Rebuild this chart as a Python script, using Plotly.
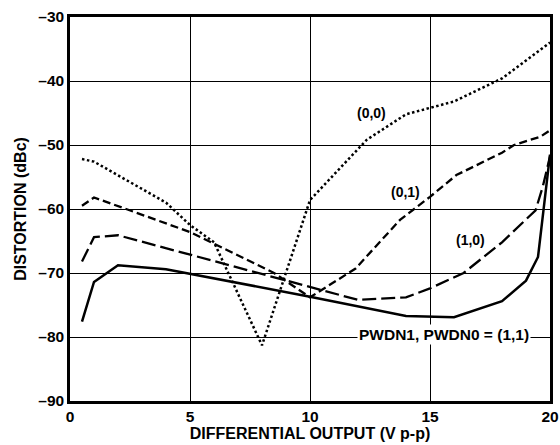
import plotly.graph_objects as go

# (1,1) solid
x11 = [0.5, 1, 2, 4, 10, 14, 16, 18, 19, 19.5, 20]
y11 = [-77.6, -71.4, -68.8, -69.4, -73.7, -76.7, -76.9, -74.4, -71.2, -67.5, -51.5]
# (1,0) long dash
x10 = [0.5, 1, 2, 10, 12, 14, 15, 16.4, 18, 19.4, 19.7, 20]
y10 = [-68.2, -64.4, -64.1, -72.1, -74.2, -73.8, -72.4, -70.0, -65.2, -60.2, -56.5, -51.8]
# (0,1) short dash
x01 = [0.5, 1, 5, 6, 8.5, 10, 11.9, 13.75, 15, 16.1, 18, 18.5, 19.6, 20]
y01 = [-59.5, -58.2, -63.6, -65.4, -70.0, -73.8, -69.3, -61.7, -58.1, -54.7, -51.2, -50.0, -48.7, -47.7]
# (0,0) dotted
x00 = [0.5, 1, 4, 5, 6, 8, 10, 12.36, 14, 15, 16, 18, 20]
y00 = [-52.2, -52.6, -59.0, -62.5, -65.2, -81.3, -58.6, -49.2, -45.2, -44.2, -43.2, -39.6, -34.0]

xticks = [0, 5, 10, 15, 20]
yticks = [-90, -80, -70, -60, -50, -40, -30]
yticktext = ["\u201390", "\u201380", "\u201370", "\u201360", "\u201350", "\u201340", "\u201330"]

FONT = "Liberation Sans"

fig = go.Figure()
fig.add_trace(go.Scatter(x=x11, y=y11, mode="lines", line=dict(color="black", width=2.5)))
fig.add_trace(go.Scatter(x=x10, y=y10, mode="lines", line=dict(color="black", width=2.3, dash="14px,5px")))
fig.add_trace(go.Scatter(x=x01, y=y01, mode="lines", line=dict(color="black", width=2.3, dash="8px,4px")))
fig.add_trace(go.Scatter(x=x00, y=y00, mode="lines", line=dict(color="black", width=2.5, dash="2.5px,2.5px")))

ann_font = dict(family=FONT, size=14, color="black", weight="bold")
fig.add_annotation(x=12.58, y=-45, text="(0,0)", showarrow=False, font=ann_font)
fig.add_annotation(x=13.96, y=-57.3, text="(0,1)", showarrow=False, font=ann_font)
fig.add_annotation(x=16.67, y=-64.8, text="(1,0)", showarrow=False, font=ann_font)
fig.add_annotation(x=15.6, y=-79.6, text="PWDN1, PWDN0 = (1,1)", showarrow=False,
                   font=dict(family=FONT, size=15.5, color="black", weight="bold"),
                   bgcolor="white", borderpad=1)

fig.update_layout(
    width=560, height=445,
    margin=dict(l=70, r=10, t=17, b=44),
    paper_bgcolor="white", plot_bgcolor="white",
    showlegend=False,
    font=dict(family=FONT, color="black", size=13, weight="bold"),
    xaxis=dict(range=[0, 20], tickvals=xticks, ticktext=[str(v) for v in xticks],
               showgrid=True, gridcolor="black", gridwidth=1,
               showline=True, linecolor="black", linewidth=2.5, mirror=True,
               zeroline=False, ticks="", automargin=False, ticklabeloverflow="allow",
               tickfont=dict(size=15.5, family=FONT, weight="bold"),
               title=dict(text="DIFFERENTIAL OUTPUT (V p-p)", standoff=0,
                          font=dict(size=16, family=FONT, weight="bold"))),
    yaxis=dict(range=[-90, -30], tickvals=yticks, ticktext=yticktext,
               showgrid=True, gridcolor="black", gridwidth=1,
               showline=True, linecolor="black", linewidth=2.5, mirror=True,
               zeroline=False, ticks="", automargin=False,
               tickfont=dict(size=15.5, family=FONT, weight="bold"),
               title=dict(text="DISTORTION (dBc)", standoff=8,
                          font=dict(size=16, family=FONT, weight="bold"))),
)

# remove the page's default body margin so the figure fills the window exactly
fig.write_html("out.html", config={"displayModeBar": False},
               post_script="document.body.style.margin='0';document.body.style.overflow='hidden';")
